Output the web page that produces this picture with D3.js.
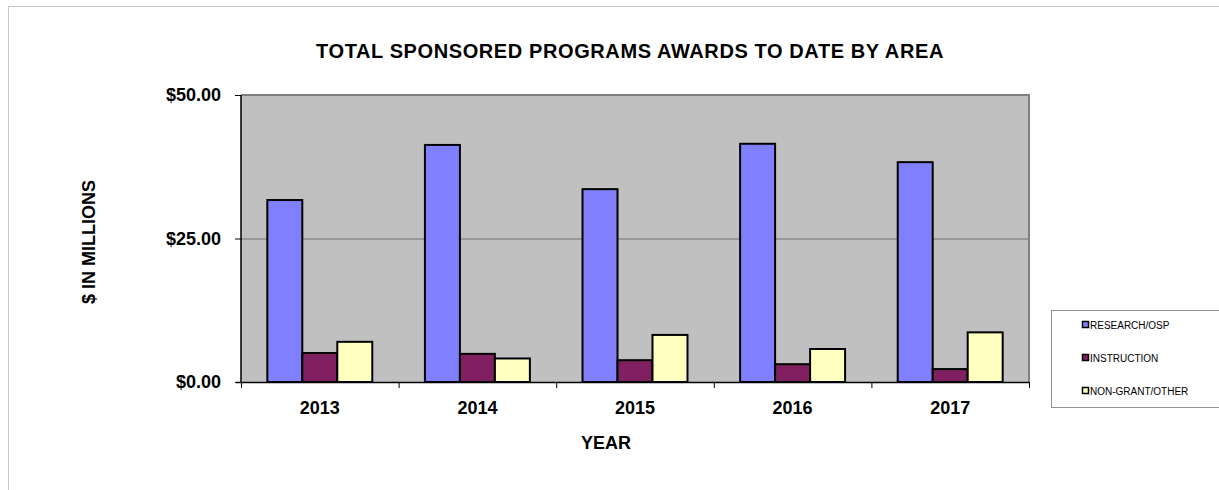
<!DOCTYPE html>
<html>
<head>
<meta charset="utf-8">
<script src="https://cdn.jsdelivr.net/npm/d3@7"></script>
<style>
  body { margin: 0; background: #fff; }
  text { font-family: "Liberation Sans", Arial, sans-serif; }
</style>
</head>
<body>
<div id="chart"></div>
<script>
// chart data
var years = ["2013", "2014", "2015", "2016", "2017"];
var seriesNames = ["RESEARCH/OSP", "INSTRUCTION", "NON-GRANT/OTHER"];
var research = [31.7, 41.3, 33.6, 41.5, 38.3];
var instruction = [5.05, 4.9, 3.8, 3.1, 2.25];
var nonGrant = [7.0, 4.1, 8.2, 5.75, 8.65];
var yTicks = [0, 25, 50];

var colors = ["#8080ff", "#802060", "#ffffc0"];

var svgWidth = 1219;
var svgHeight = 490;

var plot = { left: 241, right: 1029, top: 95, bottom: 382 };

var svg = d3.select("#chart")
  .append("svg")
  .attr("width", svgWidth)
  .attr("height", svgHeight);

// outer frame
svg.append("rect")
  .attr("x", 8.5)
  .attr("y", 6.5)
  .attr("width", svgWidth + 10)
  .attr("height", svgHeight + 10)
  .attr("fill", "none")
  .attr("stroke", "#c8c8c8")
  .attr("stroke-width", 1);

var x0 = d3.scaleBand()
  .domain(years)
  .range([plot.left, plot.right])
  .paddingInner(0.334)
  .paddingOuter(0.167);

var x1 = d3.scaleBand()
  .domain(seriesNames)
  .range([0, x0.bandwidth()]);

var y = d3.scaleLinear()
  .domain([0, 50])
  .range([plot.bottom, plot.top]);

// plot background
svg.append("rect")
  .attr("x", plot.left)
  .attr("y", plot.top)
  .attr("width", plot.right - plot.left)
  .attr("height", plot.bottom - plot.top)
  .attr("fill", "#c0c0c0");

// gridlines
svg.append("g")
  .selectAll("line")
  .data(yTicks.filter(d => d > 0 && d < 50))
  .enter()
  .append("line")
  .attr("x1", plot.left)
  .attr("x2", plot.right)
  .attr("y1", d => y(d) + 0.5)
  .attr("y2", d => y(d) + 0.5)
  .attr("stroke", "#707070")
  .attr("stroke-width", 1);

// top and right border of plot
svg.append("path")
  .attr("d", `M${plot.left},${plot.top} H${plot.right} V${plot.bottom}`)
  .attr("fill", "none")
  .attr("stroke", "#808080")
  .attr("stroke-width", 2);

// bars
var rows = years.map(function(yr, i) {
  return { year: yr, values: [research[i], instruction[i], nonGrant[i]] };
});

var groups = svg.append("g")
  .selectAll("g")
  .data(rows)
  .enter()
  .append("g")
  .attr("transform", d => `translate(${x0(d.year)},0)`);

groups.selectAll("rect")
  .data(d => d.values.map((v, j) => ({ name: seriesNames[j], value: v, j: j })))
  .enter()
  .append("rect")
  .attr("x", d => x1(d.name))
  .attr("y", d => y(d.value))
  .attr("width", x1.bandwidth())
  .attr("height", d => y(0) - y(d.value))
  .attr("fill", d => colors[d.j])
  .attr("stroke", "#000")
  .attr("stroke-width", 2);

// y axis
var leftAxis = d3.axisLeft(y)
  .tickValues(yTicks)
  .tickSize(6)
  .tickPadding(14)
  .tickFormat(d => "$" + d3.format(".2f")(d));

var yAxisG = svg.append("g")
  .attr("transform", `translate(${plot.left},0)`)
  .call(leftAxis);
yAxisG.select(".domain").attr("stroke", "#000").attr("stroke-width", 1.5)
  .attr("d", `M0,${plot.top}V${plot.bottom}`);
yAxisG.selectAll(".tick line").attr("stroke", "#000");
yAxisG.selectAll("text")
  .attr("font-size", "18px")
  .attr("font-weight", "bold")
  .attr("fill", "#000")
  .style("font-family", "'Liberation Sans', Arial, sans-serif");

// x axis: ticks at category boundaries
var boundaries = years.map(yr => x0(yr) - x0.step() * x0.paddingInner() / 2)
  .concat([plot.right]);
svg.append("line")
  .attr("x1", plot.left - 5)
  .attr("x2", plot.right)
  .attr("y1", plot.bottom + 0.5)
  .attr("y2", plot.bottom + 0.5)
  .attr("stroke", "#000")
  .attr("stroke-width", 1.5);
svg.append("g")
  .selectAll("line")
  .data(boundaries)
  .enter()
  .append("line")
  .attr("x1", d => d + 0.5)
  .attr("x2", d => d + 0.5)
  .attr("y1", plot.bottom)
  .attr("y2", plot.bottom + 6)
  .attr("stroke", "#000");

svg.append("g")
  .selectAll("text")
  .data(years)
  .enter()
  .append("text")
  .attr("x", d => x0(d) + x0.bandwidth() / 2)
  .attr("y", 414)
  .attr("text-anchor", "middle")
  .attr("font-size", "18px")
  .attr("font-weight", "bold")
  .text(d => d);

// titles
svg.append("text")
  .attr("x", 630)
  .attr("y", 58)
  .attr("text-anchor", "middle")
  .attr("font-size", "20px")
  .attr("font-weight", "bold")
  .attr("letter-spacing", "0.6px")
  .text("TOTAL SPONSORED PROGRAMS AWARDS TO DATE BY AREA");

svg.append("text")
  .attr("x", 606)
  .attr("y", 449)
  .attr("text-anchor", "middle")
  .attr("font-size", "18px")
  .attr("font-weight", "bold")
  .text("YEAR");

svg.append("text")
  .attr("transform", "translate(95,242) rotate(-90)")
  .attr("text-anchor", "middle")
  .attr("font-size", "18px")
  .attr("font-weight", "bold")
  .text("$ IN MILLIONS");

// legend
var legend = svg.append("g");
legend.append("rect")
  .attr("x", 1051.5)
  .attr("y", 310.5)
  .attr("width", 200)
  .attr("height", 97)
  .attr("fill", "#fff")
  .attr("stroke", "#909090");

var items = legend.selectAll("g")
  .data(seriesNames)
  .enter()
  .append("g")
  .attr("transform", (d, i) => `translate(1082,${325 + i * 33})`);

items.append("rect")
  .attr("x", 0.5)
  .attr("y", -3.5)
  .attr("width", 6)
  .attr("height", 6)
  .attr("fill", (d, i) => colors[i])
  .attr("stroke", "#000")
  .attr("stroke-width", 1.5);

items.append("text")
  .attr("x", 8)
  .attr("y", 3.5)
  .attr("font-size", "10px")
  .text(d => d);
</script>
</body>
</html>
